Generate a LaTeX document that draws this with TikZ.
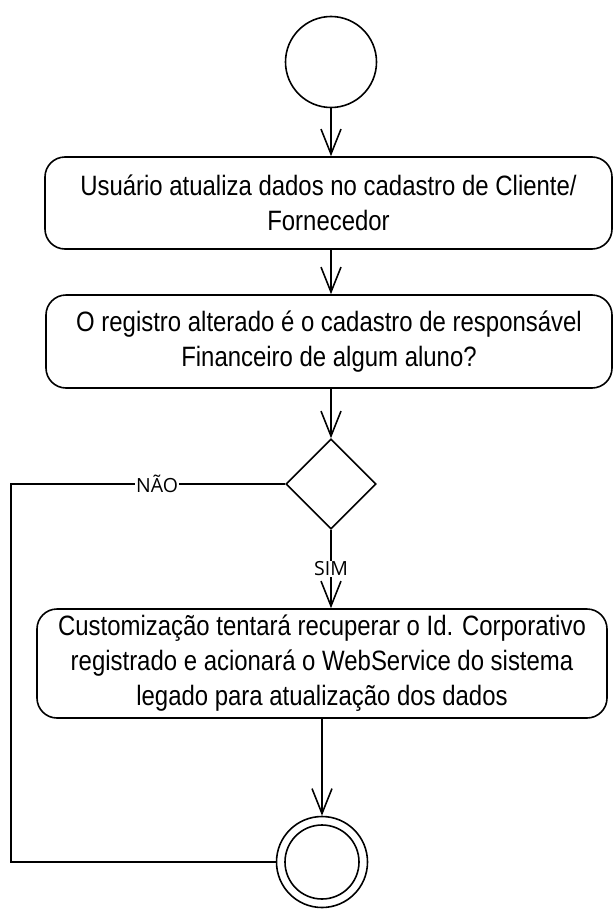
\documentclass[tikz,border=0pt]{standalone}
\usepackage{fontspec}
\setmainfont{Liberation Sans}[FakeStretch=0.855]
\newfontfamily\lblfont{Open Sans}
\usetikzlibrary{arrows.meta,shapes.geometric}
\begin{document}
\begin{tikzpicture}[x=1pt,y=-1pt, line width=1.6pt,
  act/.style={draw, rounded corners=20pt, align=center, font=\fontsize{28}{35}\selectfont, inner sep=0pt},
  flow/.style={-{Straight Barb[length=25pt,width=20pt]}},
  lbl/.style={fill=white, font=\lblfont\fontsize{19.5}{22}\selectfont, inner sep=1pt},
  bigcirc/.style={draw, circle, inner sep=0pt, minimum size=#1}]
\useasboundingbox (0,0) rectangle (614,910);
\node[bigcirc=91pt] (start) at (331,62) {};
\node[act, minimum width=567pt, minimum height=92pt] (a1) at (328.5,203) {Usuário atualiza dados no cadastro de Cliente/\\Fornecedor};
\node[act, minimum width=566pt, minimum height=93pt] (a2) at (329,341.5) {O registro alterado é o cadastro de responsável\\Financeiro de algum aluno?};
\node[draw, diamond, minimum width=90pt, minimum height=90pt, inner sep=0pt] (dia) at (331,484) {};
\node[act, minimum width=570pt, minimum height=109pt] (a3) at (322,663.5) {Customização tentará recuperar o Id. Corporativo\\registrado e acionará o WebService do sistema\\legado para atualização dos dados};
\node[bigcirc=91pt] (fin) at (322,862) {};
\node[bigcirc=74pt] (finin) at (fin) {};
\coordinate (c1) at (11,484);
\coordinate (c2) at (11,862);
\draw[flow] (start.south) -- (start.south |- a1.north);
\draw[flow] (a1.south -| start) -- (a2.north -| start);
\draw[flow] (a2.south -| dia) -- (dia.north);
\draw[flow] (dia.south) -- node[lbl]{SIM} (dia.south |- a3.north);
\draw[flow] (a3.south -| fin) -- (fin.north);
\draw (dia.west) -- node[lbl, pos=0.467]{NÃO} (c1) -- (c2) -- (fin.west);
\end{tikzpicture}
\end{document}
